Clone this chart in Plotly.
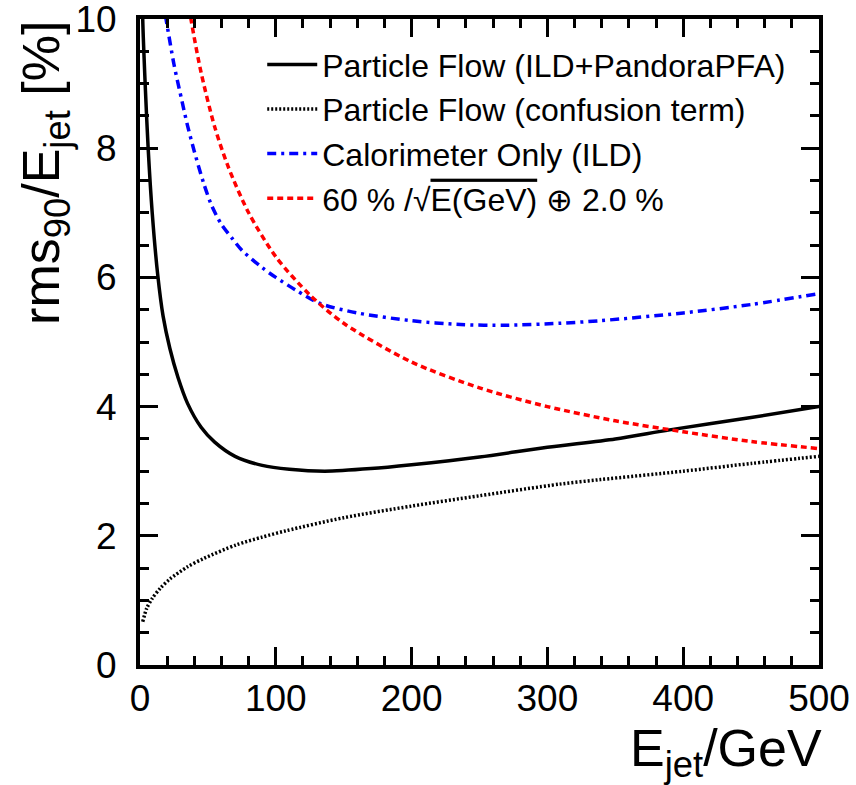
import plotly.graph_objects as go

# Jet energy resolution vs jet energy (ILD detector, PandoraPFA)

# Particle Flow (ILD+PandoraPFA)
pfa_e = [1.5, 2, 4, 6, 9, 13, 17, 22, 28, 35, 45, 55, 70, 90, 110, 136, 170, 200, 250, 300, 350, 390, 450, 500]
pfa_res = [11.0, 10.0, 8.9, 8.0, 7.0, 6.05, 5.4, 4.9, 4.45, 4.05, 3.68, 3.45, 3.23, 3.09, 3.03, 3.0, 3.04, 3.1, 3.22, 3.37, 3.5, 3.64, 3.83, 4.0]

# Particle Flow (confusion term)
conf_e = [2, 5, 9, 15, 22, 35, 47, 71, 90, 108, 150, 200, 250, 309, 339, 400, 450, 500]
conf_res = [0.67, 0.88, 1.03, 1.19, 1.33, 1.52, 1.65, 1.86, 1.98, 2.08, 2.28, 2.46, 2.62, 2.8, 2.87, 3.0, 3.12, 3.23]

# Calorimeter only (ILD)
calo_e = [16, 25, 31, 35, 40, 47, 53, 60, 68, 75, 90, 100, 115, 132, 160, 200, 236, 270, 309, 339, 400, 450, 500]
calo_res = [10.4, 9.3, 8.72, 8.35, 7.95, 7.45, 7.1, 6.82, 6.6, 6.42, 6.15, 6.0, 5.8, 5.6, 5.45, 5.33, 5.27, 5.26, 5.29, 5.33, 5.45, 5.58, 5.75]

# 60 %/sqrt(E) (+) 2.0 %
ref_e = [34, 38, 45, 55, 65, 80, 100, 125, 150, 200, 250, 300, 350, 400, 450, 500]
ref_res = [10.48, 9.94, 9.17, 8.33, 7.71, 7.0, 6.32, 5.73, 5.29, 4.69, 4.29, 4.0, 3.78, 3.61, 3.46, 3.35]

x_ticks = [0, 100, 200, 300, 400, 500]
y_ticks = [0, 2, 4, 6, 8, 10]

FONT = "Liberation Sans, Arial, Helvetica, sans-serif"

fig = go.Figure()
fig.add_trace(go.Scatter(x=pfa_e, y=pfa_res, mode="lines",
                         line=dict(color="black", width=3.5, shape="spline", smoothing=0.8),
                         name="Particle Flow (ILD+PandoraPFA)"))
fig.add_trace(go.Scatter(x=conf_e, y=conf_res, mode="lines",
                         line=dict(color="black", width=3.5, dash="2px,2px", shape="spline", smoothing=0.8),
                         name="Particle Flow (confusion term)"))
fig.add_trace(go.Scatter(x=calo_e, y=calo_res, mode="lines",
                         line=dict(color="#0000ff", width=3.5, dash="9px,5px,3px,5px", shape="spline", smoothing=0.8),
                         name="Calorimeter Only (ILD)"))
fig.add_trace(go.Scatter(x=ref_e, y=ref_res, mode="lines",
                         line=dict(color="#ff0000", width=3.5, dash="6px,4px", shape="spline", smoothing=0.8),
                         name="60 % /√<span style='text-decoration:overline'>E(GeV)</span> ⊕ 2.0 %"))

axis_common = dict(
    showline=True, linecolor="black", linewidth=4, mirror="allticks",
    ticks="inside", ticklen=18, tickwidth=3, tickcolor="black",
    showgrid=False, zeroline=False, ticklabeloverflow="allow", automargin=False,
    tickfont=dict(family=FONT, size=37, color="black"),
)

fig.update_xaxes(range=[0, 500], tickvals=x_ticks, ticktext=[str(v) for v in x_ticks],
                 minor=dict(dtick=20, ticks="inside", ticklen=9, tickwidth=3, tickcolor="black", showgrid=False),
                 ticklabelstandoff=-2, **axis_common)
fig.update_yaxes(range=[0, 10], tickvals=y_ticks, ticktext=[str(v) for v in y_ticks],
                 minor=dict(dtick=0.5, ticks="inside", ticklen=9, tickwidth=3, tickcolor="black", showgrid=False),
                 ticklabelstandoff=12, **axis_common)

fig.add_annotation(text="E<sub>jet</sub>/GeV", xref="paper", yref="paper", x=1.0, y=-0.08,
                   xanchor="right", yanchor="top", xshift=5, showarrow=False,
                   font=dict(family=FONT, size=52, color="black"))
fig.add_annotation(text="rms<sub>90</sub>/E<sub>jet</sub> [%]", xref="paper", yref="paper",
                   x=-0.14, y=1.0, xanchor="center", yanchor="top", textangle=-90, showarrow=False,
                   font=dict(family=FONT, size=52, color="black"))

fig.update_layout(
    width=856, height=785,
    margin=dict(l=140, r=37, t=19, b=120),
    paper_bgcolor="white", plot_bgcolor="white",
    showlegend=True,
    legend=dict(x=0.18, y=0.972, xanchor="left", yanchor="top", bgcolor="rgba(0,0,0,0)",
                font=dict(family=FONT, size=32, color="black"), itemwidth=50, tracegroupgap=0),
)

fig.write_html("out.html")
